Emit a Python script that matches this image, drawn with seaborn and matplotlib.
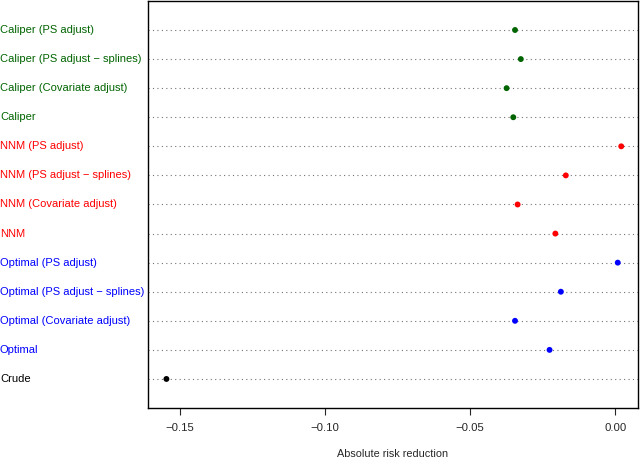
"""Dot chart of absolute risk reduction by matching method."""

import matplotlib
matplotlib.use("Agg")
import matplotlib.pyplot as plt
import matplotlib.transforms as mtransforms
import numpy as np
import pandas as pd
import seaborn as sns

# Rows listed top to bottom, as in the chart.
methods = [
    "Caliper (PS adjust)",
    "Caliper (PS adjust \u2212 splines)",
    "Caliper (Covariate adjust)",
    "Caliper",
    "NNM (PS adjust)",
    "NNM (PS adjust \u2212 splines)",
    "NNM (Covariate adjust)",
    "NNM",
    "Optimal (PS adjust)",
    "Optimal (PS adjust \u2212 splines)",
    "Optimal (Covariate adjust)",
    "Optimal",
    "Crude",
]
groups = ["Caliper"] * 4 + ["NNM"] * 4 + ["Optimal"] * 4 + ["Crude"]
risk_reduction = [
    -0.0345, -0.0325, -0.0374, -0.0351,
    0.0021, -0.0170, -0.0336, -0.0206,
    0.0009, -0.0187, -0.0345, -0.0226,
    -0.1546,
]
group_colors = {"Caliper": "darkgreen", "NNM": "red", "Optimal": "blue", "Crude": "black"}

x_ticks = [-0.15, -0.10, -0.05, 0.00]
x_tick_labels = ["\u22120.15", "\u22120.10", "\u22120.05", "0.00"]


def plot_dotchart() -> None:
    """Draw the R-style dot chart and save it to out.png."""
    df = pd.DataFrame({"method": methods, "group": groups, "arr": risk_reduction})
    # R dotchart puts the last row at y=1 and the first at the top.
    df["pos"] = np.arange(len(df), 0, -1)

    sns.set_style("white")
    plt.rcParams["font.family"] = ["Liberation Sans", "DejaVu Sans"]

    fig, ax = plt.subplots(figsize=(6.4, 4.59), dpi=100)
    fig.subplots_adjust(left=0.231, right=0.997, top=0.998, bottom=0.111)

    xlim = (-0.161, 0.0079)
    ax.hlines(df["pos"], xlim[0], xlim[1], colors="0.45", linestyles=(0, (1, 3)), linewidth=0.8, zorder=1)
    sns.scatterplot(data=df, x="arr", y="pos", hue="group", palette=group_colors,
                    s=18, edgecolor="none", legend=False, ax=ax, zorder=2)

    ax.set_xlim(*xlim)
    ax.set_ylim(0, len(df) + 1)
    ax.set_yticks([])
    ax.set_ylabel("")
    ax.set_xticks(x_ticks, x_tick_labels)
    ax.tick_params(axis="x", direction="out", length=5, width=0.8, pad=6, labelsize=8.2, bottom=True)
    ax.set_xlabel("Absolute risk reduction", fontsize=7.8, labelpad=11)
    for spine in ax.spines.values():
        spine.set_color("black")
        spine.set_linewidth(1.0)

    # Row labels sit at the left edge of the figure, coloured by group.
    trans = mtransforms.blended_transform_factory(fig.transFigure, ax.transData)
    for _, row in df.iterrows():
        ax.text(0.0, row["pos"], row["method"], transform=trans, ha="left", va="center",
                fontsize=8.0, color=group_colors[row["group"]], clip_on=False)

    fig.savefig("out.png", dpi=100)


if __name__ == "__main__":
    plot_dotchart()
